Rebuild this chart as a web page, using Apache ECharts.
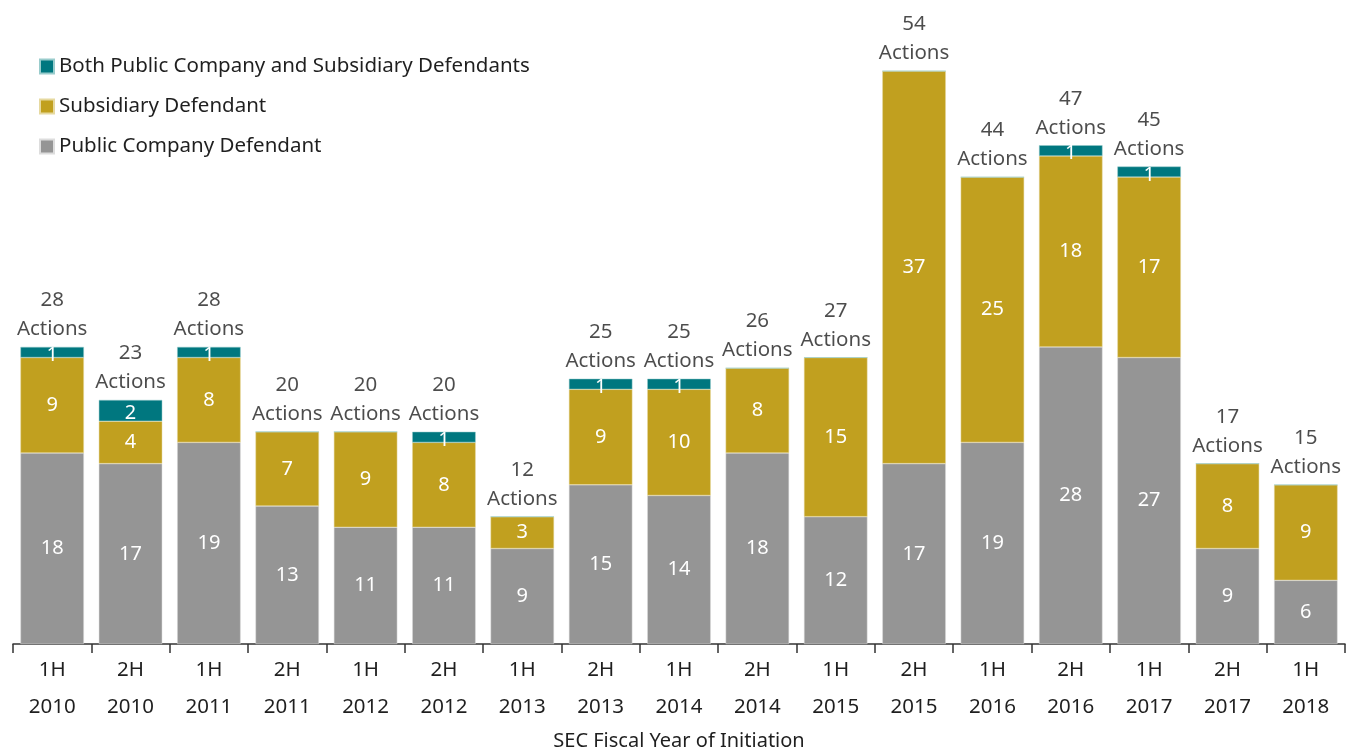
<!DOCTYPE html>
<html><head><meta charset="utf-8">
<script src="https://cdn.jsdelivr.net/npm/echarts@6/dist/echarts.min.js"></script>
<style>html,body{margin:0;padding:0;background:#fff}#c{width:1349px;height:752px}</style>
</head><body><div id="c"></div>
<script>
const categories = ['1H\n2010','2H\n2010','1H\n2011','2H\n2011','1H\n2012','2H\n2012','1H\n2013','2H\n2013','1H\n2014','2H\n2014','1H\n2015','2H\n2015','1H\n2016','2H\n2016','1H\n2017','2H\n2017','1H\n2018'];
const publicCompany = [18,17,19,13,11,11,9,15,14,18,12,17,19,28,27,9,6];
const subsidiary = [9,4,8,7,9,8,3,9,10,8,15,37,25,18,17,8,9];
const both = [1,2,1,0,0,1,0,1,1,0,0,0,0,1,1,0,0];
const totals = [28,23,28,20,20,20,12,25,25,26,27,54,44,47,45,17,15];

const FONT = '"Noto Sans", sans-serif';
const TXT = '#1f1f1f';
const segLabel = {show:true, position:'inside', color:'#fff', fontSize:20, fontFamily:FONT,
  formatter: p => p.value ? String(p.value) : ''};
const chart = echarts.init(document.getElementById('c'));
chart.setOption({
  animation:false,
  textStyle:{fontFamily:FONT},
  legend:{orient:'vertical', left:34, top:51, itemWidth:14, itemHeight:14, itemGap:19,
    icon:'rect',
    textStyle:{fontSize:20.5, color:TXT, fontFamily:FONT},
    data:['Both Public Company and Subsidiary Defendants','Subsidiary Defendant','Public Company Defendant']},
  grid:{left:13, right:4, top:71, bottom:108, containLabel:false, outerBoundsMode:'none'},
  xAxis:{type:'category', data:categories,
    axisLine:{lineStyle:{color:'#333', width:1.5}},
    axisTick:{show:true, length:9, lineStyle:{color:'#333', width:1.5}},
    axisLabel:{fontSize:20.5, color:TXT, lineHeight:37, margin:8, fontFamily:FONT},
    name:'SEC Fiscal Year of Initiation', nameLocation:'middle', nameGap:86,
    nameTextStyle:{fontSize:20, color:TXT, fontFamily:FONT}},
  yAxis:{type:'value', min:0, max:54, show:false, splitLine:{show:false}},
  series:[
    {name:'Public Company Defendant', type:'bar', stack:'a', data:publicCompany, barCategoryGap:'19%',
     itemStyle:{color:'#959595', borderColor:'#ddd', borderWidth:0.5}, label:segLabel},
    {name:'Subsidiary Defendant', type:'bar', stack:'a', data:subsidiary,
     itemStyle:{color:'#C1A01F', borderColor:'#e6d9a0', borderWidth:0.5}, label:segLabel},
    {name:'Both Public Company and Subsidiary Defendants', type:'bar', stack:'a', data:both, z:3,
     itemStyle:{color:'#00777F', borderColor:'#9cc', borderWidth:0.5},
     label:Object.assign({}, segLabel, {offset:[0,3]})},
    {name:'Total', type:'scatter', data:totals, symbolSize:0, silent:true, z:4,
     label:{show:true, position:'top', distance:3, fontSize:20.5, lineHeight:29, color:TXT, fontFamily:FONT,
       formatter: p => p.value + '\nActions'}}
  ]
});
</script></body></html>
